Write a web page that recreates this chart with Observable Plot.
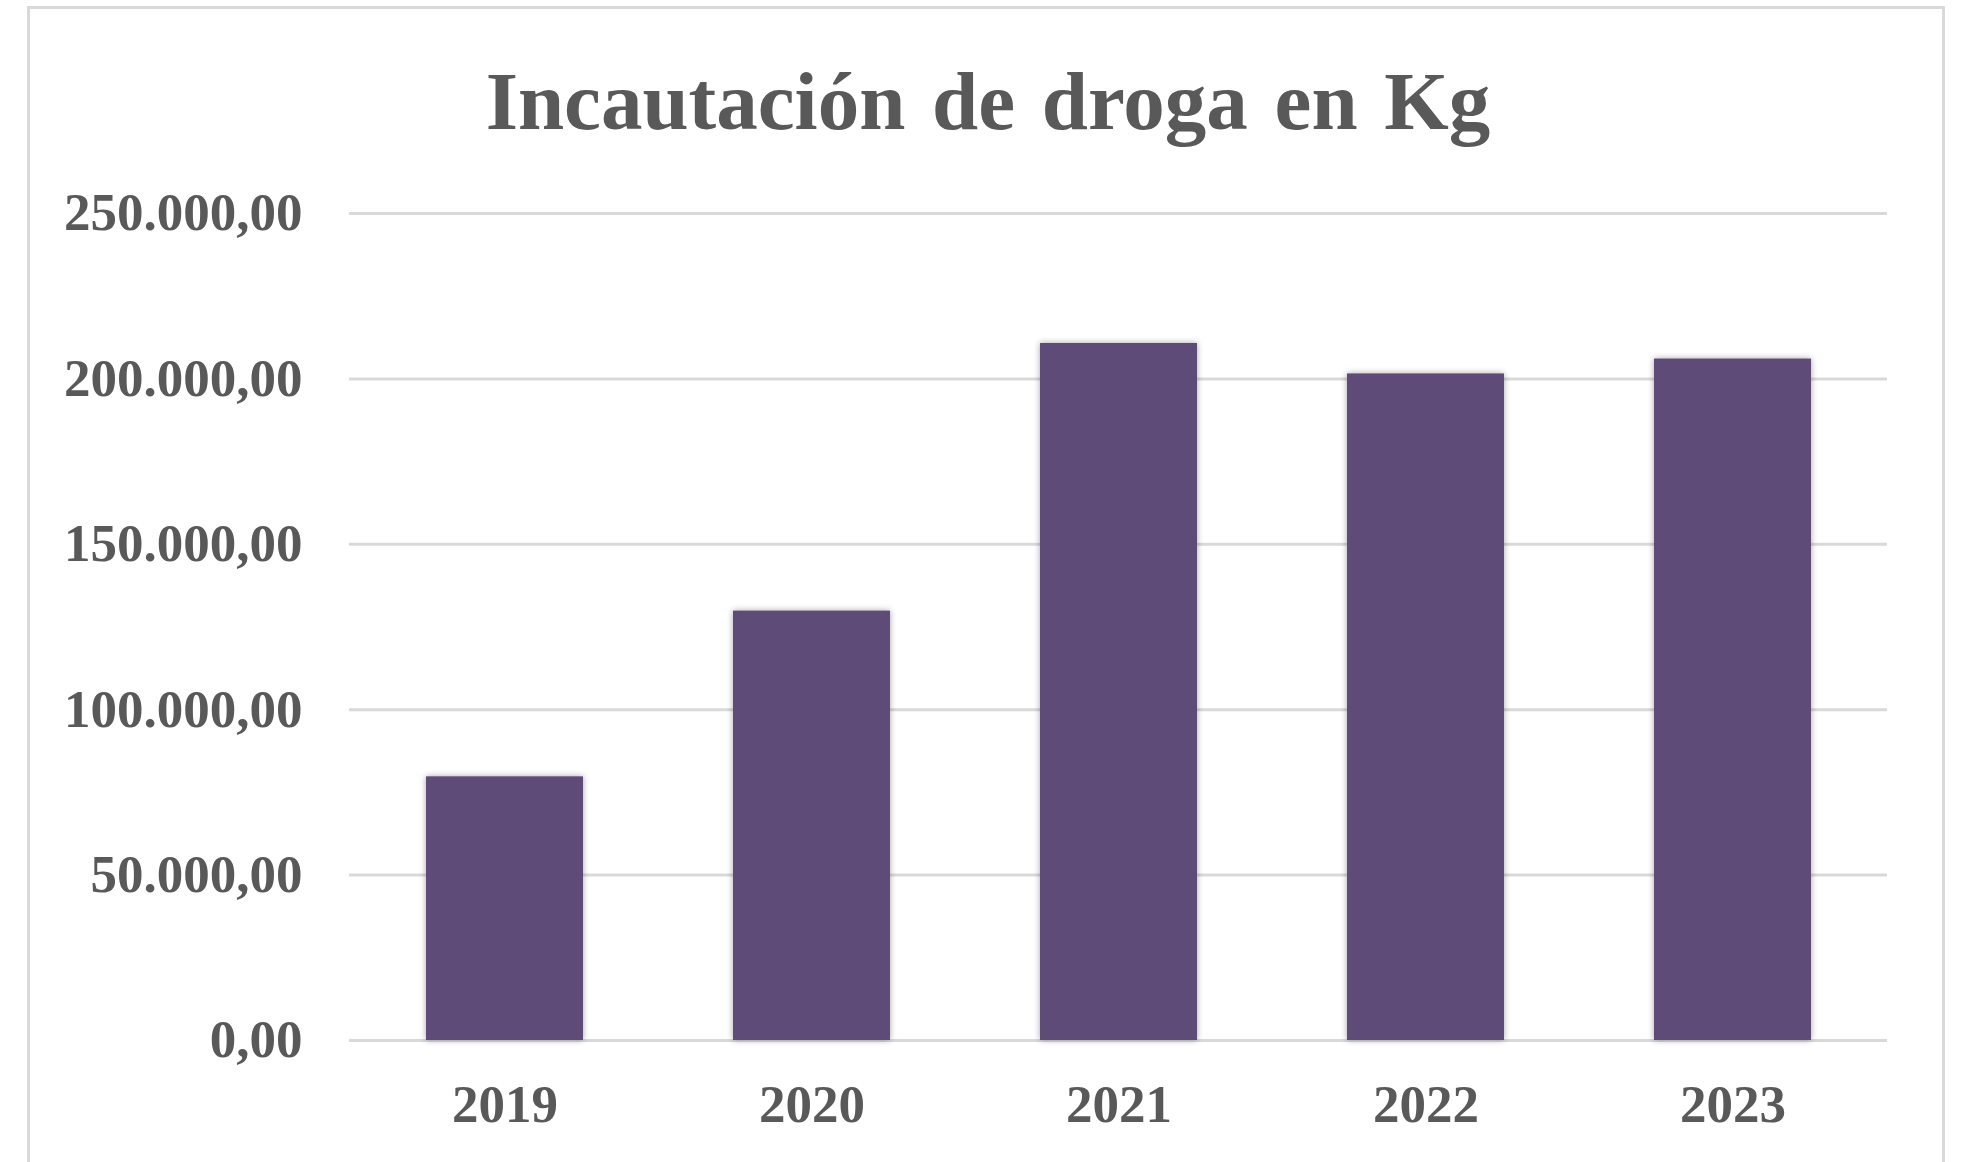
<!DOCTYPE html>
<html>
<head>
<meta charset="utf-8">
<script src="https://cdn.jsdelivr.net/npm/d3@7"></script>
<script src="https://cdn.jsdelivr.net/npm/@observablehq/plot@0.6"></script>
<style>
  html, body { margin: 0; padding: 0; background: #fff; overflow: hidden; }
  #wrap { position: relative; width: 1974px; height: 1162px; overflow: hidden; background: #fff; }
  #frame { position: absolute; left: 27px; top: 6px; width: 1918px; height: 1200px; border: 3px solid #d9d9d9; box-sizing: border-box; }
  #title { position: absolute; left: 28px; width: 1920px; top: 60px; text-align: center;
           font-family: "Liberation Serif", "Times New Roman", serif; font-weight: bold; font-size: 83px;
           line-height: 1; color: #595959; word-spacing: 6px; }
  #chart { position: absolute; left: 0; top: 140px; }
</style>
</head>
<body>
<div id="wrap">
  <div id="frame"></div>
  <div id="title">Incautación de droga en Kg</div>
  <div id="chart"></div>
</div>
<script>
const years = ["2019", "2020", "2021", "2022", "2023"];
const kilos = [79700, 129800, 210700, 201500, 206000];
const yTicks = [0, 50000, 100000, 150000, 200000, 250000];

const data = years.map((y, i) => ({year: y, kg: kilos[i]}));
const es = d3.formatLocale({decimal: ",", thousands: ".", grouping: [3], currency: ["", ""]});
const fmt = es.format(",.2f");

const plot = Plot.plot({
  width: 1974,
  height: 1022,
  marginLeft: 349,
  marginRight: 87,
  marginTop: 73,
  marginBottom: 122,
  style: {fontFamily: "'Liberation Serif', 'Times New Roman', serif", fontWeight: "bold", color: "#595959", background: "transparent"},
  x: {domain: years, paddingInner: 0.49, paddingOuter: 0.245, label: null},
  y: {domain: [0, 250000], label: null},
  marks: [
    Plot.gridY(yTicks, {stroke: "#d9d9d9", strokeOpacity: 1, strokeWidth: 3}),
    Plot.barY(data, {x: "year", y: "kg", fill: "#5e4b78"}),
    Plot.axisY(yTicks, {tickSize: 0, tickPadding: 47, tickFormat: fmt, fontSize: 53, fill: "#595959", label: null}),
    Plot.axisX({tickSize: 0, tickPadding: 44, fontSize: 53, fill: "#595959", label: null})
  ]
});
document.getElementById("chart").appendChild(plot);
const barG = plot.querySelector('g[aria-label="bar"]');
if (barG) barG.style.filter = "drop-shadow(0px 0px 3px rgba(0,0,0,0.35))";
</script>
</body>
</html>
